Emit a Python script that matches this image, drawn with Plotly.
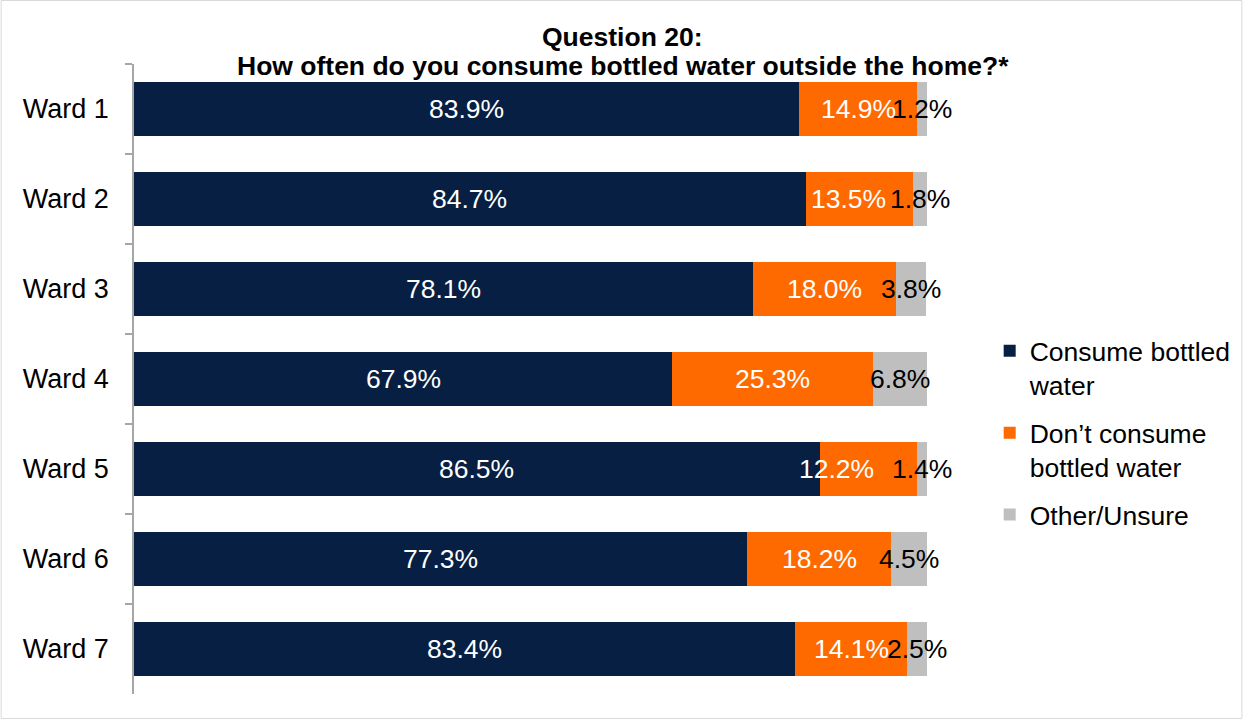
import plotly.graph_objects as go

wards = ["Ward 1", "Ward 2", "Ward 3", "Ward 4", "Ward 5", "Ward 6", "Ward 7"]
consume = [83.9, 84.7, 78.1, 67.9, 86.5, 77.3, 83.4]
dont_consume = [14.9, 13.5, 18.0, 25.3, 12.2, 18.2, 14.1]
other = [1.2, 1.8, 3.8, 6.8, 1.4, 4.5, 2.5]

series = [
    ("Consume bottled<br>water", consume, "#061F42", "white"),
    ("Don\u2019t consume<br>bottled water", dont_consume, "#FF6A00", "white"),
    ("Other/Unsure", other, "#BFBFBF", "black"),
]

# horizontal nudge (in axis units) for crowded labels
label_nudge = {(1, 4): -4.0, (1, 1): -1.4}

FONT = "Liberation Sans, Arial, sans-serif"
W, H = 1249, 719
ML, MR, MT, MB = 134, 318, 64, 25
PW, PH = W - ML - MR, H - MT - MB


def px_x(px):
    return (px - ML) / PW


def px_y(py):
    return (H - MB - py) / PH


fig = go.Figure()
for gi, (name, vals, color, _) in enumerate(series):
    fig.add_trace(go.Bar(
        y=wards, x=vals, name=name, orientation="h",
        marker=dict(color=color, line=dict(width=0)),
        legendgroup=f"g{gi}", hoverinfo="skip",
    ))

annotations = []
base = [0.0] * len(wards)
for si, (name, vals, color, tcolor) in enumerate(series):
    for i, v in enumerate(vals):
        cx = base[i] + v / 2 + label_nudge.get((si, i), 0.0)
        annotations.append(dict(
            x=cx, y=wards[i], xref="x", yref="y",
            text=f"{v:.1f}%", showarrow=False,
            font=dict(family=FONT, size=26.5, color=tcolor),
            xanchor="center", yanchor="middle",
        ))
        base[i] += v

# two-line chart heading
for txt, yc in [("<b>Question 20:</b>", 37),
                ("<b>How often do you consume bottled water outside the home?*</b>", 66)]:
    annotations.append(dict(
        x=px_x(625), y=px_y(yc), xref="paper", yref="paper",
        text=txt, showarrow=False, xanchor="center", yanchor="middle",
        font=dict(family=FONT, size=26.5, color="black"),
    ))

fig.update_layout(
    width=W, height=H,
    barmode="stack", bargap=0.4,
    plot_bgcolor="white", paper_bgcolor="white",
    margin=dict(l=ML, r=MR, t=MT, b=MB),
    font=dict(family=FONT, size=26.5, color="black"),
    xaxis=dict(range=[0, 100], visible=False, fixedrange=True),
    yaxis=dict(
        categoryorder="array", categoryarray=wards, autorange="reversed",
        showline=True, linecolor="#A6A6A6", linewidth=1.5,
        ticks="outside", tickson="boundaries", ticklen=7, tickcolor="#A6A6A6",
        tickwidth=1.5, ticklabelstandoff=18,
        tickfont=dict(family=FONT, size=27, color="black"),
        showgrid=False, zeroline=False,
    ),
    legend=dict(
        x=px_x(994), xanchor="left", y=px_y(327), yanchor="top",
        font=dict(family=FONT, size=26.5, color="black"),
        itemwidth=30, traceorder="grouped", tracegroupgap=10,
        valign="top", bgcolor="rgba(0,0,0,0)",
    ),
    annotations=annotations,
    shapes=[dict(type="rect", xref="paper", yref="paper",
                 x0=px_x(0.5), x1=px_x(W - 1.5),
                 y0=px_y(H - 0.5), y1=px_y(0.5),
                 line=dict(color="#D9D9D9", width=1), layer="below")],
)

fig.write_html("out.html")
